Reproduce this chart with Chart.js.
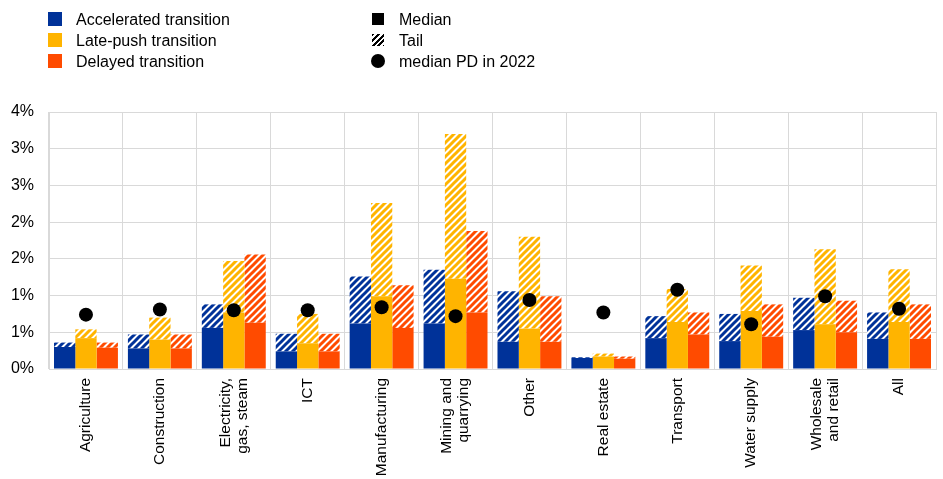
<!DOCTYPE html>
<html>
<head>
<meta charset="utf-8">
<script src="https://cdn.jsdelivr.net/npm/chart.js@4/dist/chart.umd.min.js"></script>
<style>
  html, body { margin: 0; padding: 0; background: #fff; }
  body { width: 943px; height: 479px; position: relative; overflow: hidden; font-family: "Liberation Sans", Arial, sans-serif; }
  #chart { position: absolute; left: 0; top: 0; }
  .legend { position: absolute; top: 0; font-size: 16px; color: #000; }
  .legend .row { position: absolute; white-space: nowrap; height: 21px; line-height: 21px; }
  .legend .sw { position: absolute; }
  .legend .txt { position: absolute; }
</style>
</head>
<body>
<canvas id="chart" width="943" height="479"></canvas>
<div class="legend" id="legend"></div>
<script>
(function () {
  const BLUE = '#003299';
  const YELLOW = '#ffb400';
  const ORANGE = '#ff4b00';
  const GRID = '#d9d9d9';
  const FONT = '"Liberation Sans", Arial, sans-serif';

  // categories (x axis)
  const categories = [
    'Agriculture', 'Construction', ['Electricity,', 'gas, steam'], 'ICT', 'Manufacturing',
    ['Mining and', 'quarrying'], 'Other', 'Real estate', 'Transport', 'Water supply',
    ['Wholesale', 'and retail'], 'All',
  ];

  // PD in %, median level and top of the tail, per scenario
  const accMedian = [0.30, 0.28, 0.56, 0.24, 0.62, 0.62, 0.37, 0.15, 0.42, 0.38, 0.53, 0.41];
  const accTop = [0.36, 0.47, 0.88, 0.48, 1.26, 1.35, 1.06, 0.16, 0.72, 0.75, 0.97, 0.77];
  const lateMedian = [0.42, 0.40, 0.77, 0.35, 0.99, 1.23, 0.55, 0.17, 0.64, 0.79, 0.61, 0.64];
  const lateTop = [0.54, 0.70, 1.47, 0.75, 2.26, 3.20, 1.80, 0.21, 1.09, 1.41, 1.63, 1.36];
  const delMedian = [0.29, 0.28, 0.63, 0.24, 0.56, 0.77, 0.37, 0.14, 0.47, 0.44, 0.50, 0.41];
  const delTop = [0.36, 0.47, 1.56, 0.48, 1.14, 1.88, 0.99, 0.17, 0.77, 0.88, 0.93, 0.88];
  const pd2022 = [0.74, 0.81, 0.80, 0.80, 0.84, 0.72, 0.94, 0.77, 1.08, 0.61, 0.99, 0.82];

  // y ticks every 0.5, labelled rounded to whole percent
  const yMin = 0;
  const yMax = 3.5;
  const yStep = 0.5;

  const LEGEND_LEFT = [
    { label: 'Accelerated transition', color: BLUE },
    { label: 'Late-push transition', color: YELLOW },
    { label: 'Delayed transition', color: ORANGE },
  ];
  const LEGEND_RIGHT = [
    { label: 'Median', kind: 'solid' },
    { label: 'Tail', kind: 'tail' },
    { label: 'median PD in 2022', kind: 'dot' },
  ];

  function stripes(color) {
    const s = 7;
    const c = document.createElement('canvas');
    c.width = s;
    c.height = s;
    const g = c.getContext('2d');
    g.fillStyle = '#fff';
    g.fillRect(0, 0, s, s);
    g.strokeStyle = color;
    g.lineWidth = 3;
    g.beginPath();
    g.moveTo(-1, s + 1); g.lineTo(s + 1, -1);
    g.moveTo(-2, 2); g.lineTo(2, -2);
    g.moveTo(s - 2, s + 2); g.lineTo(s + 2, s - 2);
    g.stroke();
    return g.createPattern(c, 'repeat');
  }

  const tail = (top, med) => top.map((v, i) => Math.max(0, +(v - med[i]).toFixed(3)));

  function barSet(label, data, fill, stack) {
    return { type: 'bar', label, data, backgroundColor: fill, stack, order: 1, borderWidth: 0 };
  }

  // rotated category labels, each block centred on its tick
  const xLabels = {
    id: 'xLabels',
    afterDraw(chart) {
      const scale = chart.scales.x;
      const g = chart.ctx;
      const size = 15.5;
      const lh = 17;
      g.save();
      g.font = `${size}px ${FONT}`;
      g.fillStyle = '#000';
      g.textAlign = 'right';
      g.textBaseline = 'middle';
      categories.forEach((lab, i) => {
        const lines = Array.isArray(lab) ? lab : [lab];
        const cx = scale.getPixelForTick(i);
        const x0 = cx - ((lines.length - 1) * lh) / 2;
        lines.forEach((line, j) => {
          g.save();
          g.translate(x0 + j * lh, scale.top + 9);
          g.rotate(-Math.PI / 2);
          g.fillText(line, 0, 0);
          g.restore();
        });
      });
      g.restore();
    },
  };

  function renderLegend() {
    const el = document.getElementById('legend');
    const rowsTop = [9, 30, 51];
    const parts = [];
    LEGEND_LEFT.forEach((l, i) => {
      parts.push(`<div class="row" style="left:0;top:${rowsTop[i]}px">
        <div class="sw" style="left:48px;top:3px;width:14px;height:14px;background:${l.color}"></div>
        <div class="txt" style="left:76px;top:0">${l.label}</div></div>`);
    });
    LEGEND_RIGHT.forEach((l, i) => {
      let sw;
      if (l.kind === 'solid') sw = 'left:372px;top:4px;width:12px;height:12px;background:#000';
      else if (l.kind === 'tail') sw = 'left:372px;top:4px;width:12px;height:12px;background:repeating-linear-gradient(135deg,#000 0 2px,#fff 2px 4px)';
      else sw = 'left:371px;top:3px;width:14px;height:14px;border-radius:50%;background:#000';
      parts.push(`<div class="row" style="left:0;top:${rowsTop[i]}px">
        <div class="sw" style="${sw}"></div>
        <div class="txt" style="left:399px;top:0">${l.label}</div></div>`);
    });
    el.innerHTML = parts.join('');
  }

  function renderChart() {
    const ctx = document.getElementById('chart');
    new Chart(ctx, {
      data: {
        labels: categories,
        datasets: [
          {
            type: 'line',
            label: 'median PD in 2022',
            data: pd2022,
            stack: 'pd',
            order: 0,
            showLine: false,
            pointRadius: 7,
            pointBackgroundColor: '#000',
            pointBorderWidth: 0,
          },
          barSet('Accelerated median', accMedian, BLUE, 'acc'),
          barSet('Accelerated tail', tail(accTop, accMedian), stripes(BLUE), 'acc'),
          barSet('Late-push median', lateMedian, YELLOW, 'late'),
          barSet('Late-push tail', tail(lateTop, lateMedian), stripes(YELLOW), 'late'),
          barSet('Delayed median', delMedian, ORANGE, 'del'),
          barSet('Delayed tail', tail(delTop, delMedian), stripes(ORANGE), 'del'),
        ],
      },
      options: {
        responsive: false,
        animation: false,
        events: [],
        layout: { padding: { top: 112, right: 2, left: 0, bottom: 0 } },
        datasets: { bar: { categoryPercentage: 0.865, barPercentage: 1.0 } },
        plugins: { legend: { display: false }, tooltip: { enabled: false } },
        scales: {
          x: {
            stacked: true,
            grid: { color: GRID, lineWidth: 1, drawTicks: false, offset: true },
            border: { color: GRID },
            ticks: { display: false, autoSkip: false },
            afterFit: (s) => { s.height = 110; },
          },
          y: {
            stacked: true,
            min: yMin,
            max: yMax,
            grid: { color: GRID, lineWidth: 1, drawTicks: false },
            border: { color: GRID },
            ticks: {
              stepSize: yStep,
              color: '#000',
              font: { family: FONT, size: 16 },
              padding: 15,
              callback: (v) => Math.round(v) + '%',
            },
            afterFit: (s) => { s.width = 49; },
          },
        },
      },
      plugins: [xLabels],
    });
  }

  renderLegend();
  renderChart();
})();
</script>
</body>
</html>
